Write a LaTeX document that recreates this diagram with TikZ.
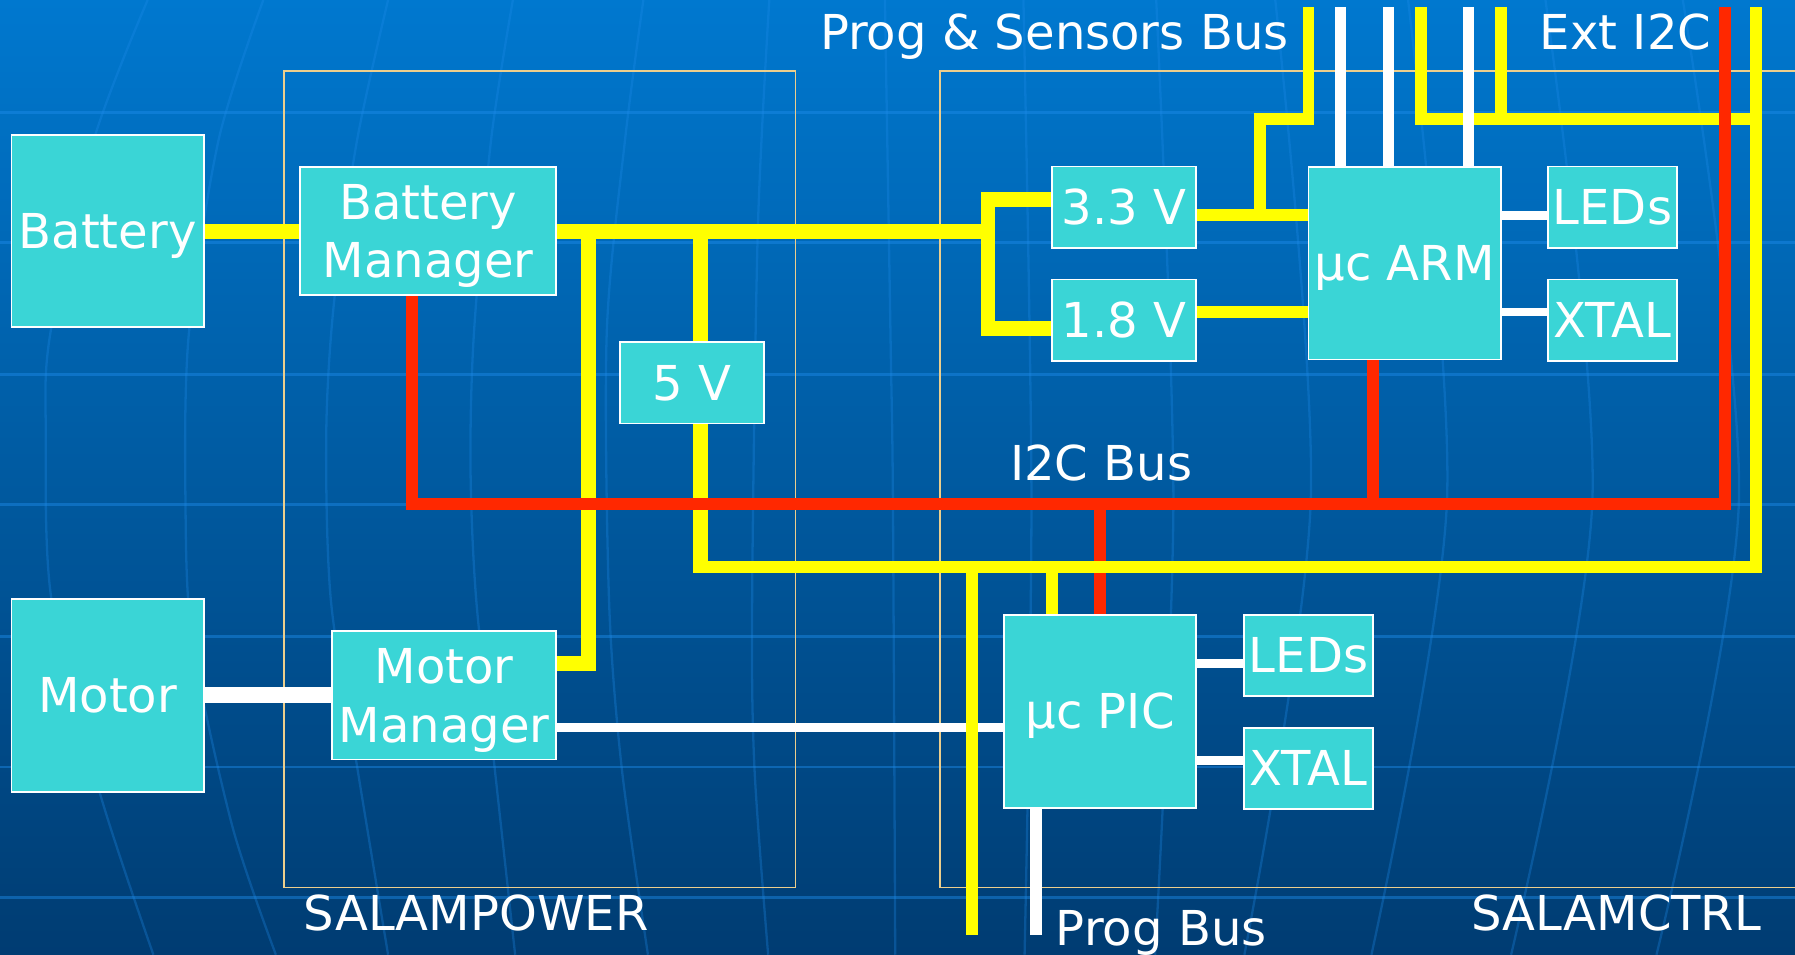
\documentclass[tikz,border=0pt]{standalone}
\usepackage{fontspec}
\setmainfont{DejaVu Sans}
\usetikzlibrary{positioning}
\definecolor{bgtop}{RGB}{0,120,207}
\definecolor{bgbot}{RGB}{0,60,114}
\definecolor{boxfill}{RGB}{58,213,214}
\definecolor{pwryel}{RGB}{255,255,0}
\definecolor{i2cred}{RGB}{255,40,0}
\definecolor{gridblue}{RGB}{30,140,235}
\definecolor{frametan}{RGB}{236,206,140}

\begin{document}
\begin{tikzpicture}[x=0.5pt, y=-0.5pt,
  box/.style={draw=white, line width=0.8pt, fill=boxfill, text=white, inner sep=0pt, align=center,
    font=\fontsize{21}{25.5}\selectfont, text height=15.3pt, text depth=0pt},
  bigbox/.style={box, minimum width=84pt, minimum height=84pt},
  regbox/.style={box, minimum width=63pt, minimum height=35.5pt},
  perbox/.style={box, minimum width=56.5pt, minimum height=35.5pt},
  mgrbox/.style={box, minimum height=56pt, text height=40.8pt},
  lbl/.style={text=white, inner sep=0pt, font=\fontsize{21}{25}\selectfont},
  outline/.style={draw=frametan, line width=0.6pt},
  ypow/.style={draw=pwryel, line width=6.5pt},
  ybus/.style={draw=pwryel, line width=5.2pt},
  i2c/.style={draw=i2cred, line width=5.2pt},
  wsig/.style={draw=white, line width=3.8pt},
  wbus/.style={draw=white, line width=5pt},
  wthick/.style={draw=white, line width=7pt},
  gridln/.style={draw=gridblue, line width=1.3pt, opacity=0.45},
  merid/.style={draw=gridblue, line width=1pt, opacity=0.3}
]
% background
\useasboundingbox (0,0) rectangle (1568,834);
\shade[top color=bgtop, bottom color=bgbot] (0,0) rectangle (1568,834);
\foreach \y in {98,212,327,441,556,670,784}
  \draw[gridln] (0,\y) -- (1568,\y);
\draw[merid] plot[smooth] coordinates {(129,0) (82,122) (44,291) (40,378) (45,524) (87,692) (134,834)};
\draw[merid] plot[smooth] coordinates {(230,0) (191,122) (165,291) (162,437) (168,560) (203,722) (241,834)};
\draw[merid] plot[smooth] coordinates {(339,0) (312,122) (292,262) (285,378) (289,524) (312,670) (339,834)};
\draw[merid] plot[smooth] coordinates {(448,0) (429,122) (414,291) (411,408) (416,524) (432,670) (450,834)};
\draw[merid] plot[smooth] coordinates {(562,0) (546,122) (530,291) (532,524) (543,670) (566,834)};
\draw[merid] plot[smooth] coordinates {(672,0) (662,200) (657,524) (659,670) (671,834)};
\draw[merid] plot[smooth] coordinates {(773,0) (778,300) (780,437) (782,834)};
\draw[merid] plot[smooth] coordinates {(894,0) (901,437) (895,834)};
\draw[merid] plot[smooth] coordinates {(1010,0) (1025,437) (1009,834)};
\draw[merid] plot[smooth] coordinates {(1114,0) (1145,437) (1087,834)};
\draw[merid] plot[smooth] coordinates {(1230,0) (1264,437) (1198,834)};
\draw[merid] plot[smooth] coordinates {(1350,0) (1391,437) (1320,834)};
\draw[merid] plot[smooth] coordinates {(1470,0) (1519,437) (1447,834)};

% board outlines
\draw[outline] (248,62) rectangle (695,775);
\draw[outline] (1568,62) -- (821,62) -- (821,775) -- (1568,775);

% blocks
\node[bigbox] (bat) at (94,202) {Battery};
\node[mgrbox, minimum width=112pt] (batmgr) at (374,202) {Battery\\Manager};
\node[regbox] (fivev) at (604.5,334.5) {5 V};
\node[bigbox] (motor) at (94,607.5) {Motor};
\node[mgrbox, minimum width=98pt] (motmgr) at (388,607.5) {Motor\\Manager};
\node[regbox] (vthree) at (982,181) {3.3 V};
\node[regbox, below=13pt of vthree] (vone) {1.8 V};
\node[bigbox] (arm) at (1227,230) {µc ARM};
\node[perbox] (armled) at (1408.5,181) {LEDs};
\node[perbox, below=13pt of armled] (armxtal) {XTAL};
\node[bigbox] (pic) at (961,621.5) {µc PIC};
\node[perbox] (picled) at (1143,572.5) {LEDs};
\node[perbox, below=13pt of picled] (picxtal) {XTAL};

% labels
\node[lbl, anchor=base east] (psbus) at (1126,43) {Prog \& Sensors Bus};
\node[lbl, anchor=base] (extlbl) at (1420,43) {Ext I2C};
\node[lbl, anchor=base] (i2clbl) at (962,420) {I2C Bus};
\node[lbl, anchor=base west] (pwrlbl) at (265,813) {SALAMPOWER};
\node[lbl, anchor=base west] (ctllbl) at (1285,813) {SALAMCTRL};
\node[lbl, anchor=base west] (proglbl) at (922,826) {Prog Bus};

% junctions and bus ends
\coordinate (fork) at (863,202);
\coordinate (mtap) at (514,202);
\coordinate (vtap) at (612,202);
\coordinate (pwr5) at (612,495);
\coordinate (bus5) at (605.5,495);
\coordinate (step) at (1101,104);
\coordinate (psb) at (1143,6);
\coordinate (ext1) at (1241,6);
\coordinate (ext2) at (1311,6);
\coordinate (ext3) at (1534,6);
\coordinate (extbar) at (1241,104);
\coordinate (feed) at (849,817);
\coordinate (picpwr) at (919,495);
\coordinate (i2cL) at (360,440);
\coordinate (i2cR) at (1507,440);
\coordinate (exti2c) at (1507,6);
\coordinate (armtap) at (1199,440);
\coordinate (pictap) at (961,440);
\coordinate (progbus) at (905,817);
\coordinate (v33in) at ([yshift=3.5pt]vthree.west);
\coordinate (v33out) at ([yshift=-3.5pt]vthree.east);
\coordinate (v18in) at ([yshift=-3.5pt]vone.west);
\coordinate (v18out) at ([yshift=3.5pt]vone.east);
\coordinate (aled) at ([yshift=-3.5pt]armled.west);
\coordinate (axtal) at ([yshift=3.5pt]armxtal.west);
\coordinate (pled) at ([yshift=-3.5pt]picled.west);
\coordinate (pxtal) at ([yshift=3.5pt]picxtal.west);
\coordinate (mmin) at ([yshift=14pt]motmgr.east);
\coordinate (mmout) at ([yshift=-14pt]motmgr.east);

% power rails
\draw[ypow] (bat.east) -- (batmgr.west);
\draw[ypow] (batmgr.east) -- (fork);
\draw[ypow] (v33in) -| (fork) |- (v18in);
\draw[ypow] (mtap) |- (mmin);
\draw[ypow] (vtap) -- (vtap |- fivev.north);
\draw[ypow] (vtap |- fivev.south) -- (pwr5);
\draw[ybus] (v33out) -- (v33out -| arm.west);
\draw[ybus] (v18out) -- (v18out -| arm.west);
\draw[ybus] (v33out -| step) -- (step) -| (psb);
\draw[ybus] (ext1) -- (extbar) -- (extbar -| ext3);
\draw[ybus] (ext2) -- (ext2 |- extbar);
\draw[wsig] (mmout) -- (mmout -| pic.west);

% I2C
\draw[i2c] (i2cL |- batmgr.south) -- (i2cL) -- (i2cR) -- (exti2c);
\draw[i2c] (armtap |- arm.south) -- (armtap);
\draw[i2c] (pictap) -- (pic.north);

% 5 V distribution
\draw[ybus] (bus5) -- (bus5 -| ext3) -- (ext3);
\draw[ybus] (feed |- bus5) -- (feed);
\draw[ybus] (picpwr) -- (picpwr |- pic.north);

% signals
\draw[wthick] (motor.east) -- (motmgr.west);
\foreach \x in {1171,1213,1283} {
  \coordinate (sb) at (\x,6);
  \draw[wbus] (sb) -- (sb |- arm.north);
}
\draw[wsig] (aled -| arm.east) -- (aled);
\draw[wsig] (axtal -| arm.east) -- (axtal);
\draw[wsig] (pled -| pic.east) -- (pled);
\draw[wsig] (pxtal -| pic.east) -- (pxtal);
\draw[wbus] (progbus |- pic.south) -- (progbus);
\end{tikzpicture}
\end{document}
